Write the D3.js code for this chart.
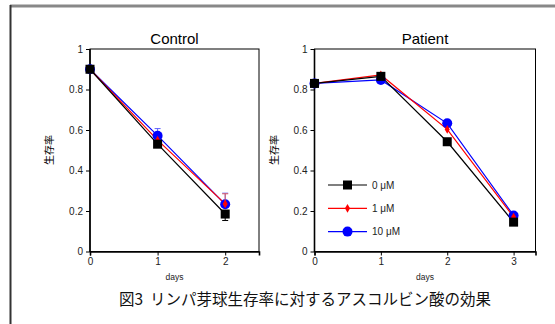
<!DOCTYPE html>
<html>
<head>
<meta charset="utf-8">
<script src="https://cdn.jsdelivr.net/npm/d3@7"></script>
<style>
  body { margin: 0; background: #fff; }
  text { font-family: "Liberation Sans", Arial, sans-serif; }
  .jp { font-family: "Noto Sans CJK JP", sans-serif; }
</style>
</head>
<body>
<svg id="chart" width="555" height="324"></svg>
<script>
// data
const controlDays = [0, 1, 2];
const patientDays = [0, 1, 2, 3];
const concLabels = ['0 μM', '1 μM', '10 μM'];

const control0 = [0.90, 0.53, 0.185];
const control1 = [0.90, 0.55, 0.235];
const control10 = [0.90, 0.572, 0.233];
const controlErr0 = [0, 0, 0.032];
const controlErr1 = [0, 0, 0.05];
const controlErr10 = [0, 0.035, 0.055];

const patient0 = [0.83, 0.865, 0.542, 0.145];
const patient1 = [0.83, 0.872, 0.603, 0.17];
const patient10 = [0.83, 0.847, 0.633, 0.178];

const yTicks = [0, 0.2, 0.4, 0.6, 0.8, 1];

const colors = ['#000000', '#ff0000', '#0000ff'];
const shapes = ['square', 'diamond', 'circle'];

const svg = d3.select('#chart');

// page frame (top gray rule, left dark rule)
svg.append('line').attr('x1', 10).attr('x2', 555).attr('y1', 6).attr('y2', 6)
  .attr('stroke', '#888').attr('stroke-width', 3);
svg.append('line').attr('x1', 10.5).attr('x2', 10.5).attr('y1', 5).attr('y2', 324)
  .attr('stroke', '#333').attr('stroke-width', 2);

function drawMarker(g, shape, color, x, y) {
  if (shape === 'square') {
    g.append('rect').attr('x', x - 4.5).attr('y', y - 4.5).attr('width', 9).attr('height', 9)
      .attr('fill', color);
  } else if (shape === 'circle') {
    g.append('circle').attr('cx', x).attr('cy', y).attr('r', 5).attr('fill', color);
  } else {
    g.append('path').attr('d', d3.symbol(d3.symbolDiamond, 22)())
      .attr('transform', `translate(${x},${y})`).attr('fill', color);
  }
}

function panel(opts) {
  const x = d3.scaleLinear().domain([0, opts.xMax]).range([opts.left, opts.right]);
  const y = d3.scaleLinear().domain([0, 1]).range([251.5, 49]);
  const g = svg.append('g');

  // box
  g.append('rect').attr('x', opts.left).attr('y', 49)
    .attr('width', opts.right - opts.left).attr('height', 251.5 - 49)
    .attr('fill', 'none').attr('stroke', '#000').attr('stroke-width', 1);

  const yAxis = g.append('g').attr('transform', `translate(${opts.left},0)`)
    .call(d3.axisLeft(y).tickValues(yTicks).tickSize(4).tickPadding(3)
      .tickFormat(d => String(+d.toFixed(1))));
  const xAxis = g.append('g').attr('transform', 'translate(0,251.5)')
    .call(d3.axisBottom(x).tickValues(opts.days).tickSize(4).tickPadding(2)
      .tickFormat(d3.format('d')));
  [yAxis, xAxis].forEach(a => {
    a.select('.domain').attr('stroke-width', 1.6);
    a.selectAll('text').attr('font-size', 10).attr('fill', '#222')
      .style('font-family', '"Liberation Sans", Arial, sans-serif');
  });
  yAxis.selectAll('.domain').attr('d', `M0,${y(0) + 0.5}V${y(1)}`);

  g.append('text').attr('x', (opts.left + opts.right) / 2).attr('y', 44)
    .attr('text-anchor', 'middle').attr('font-size', 15).text(opts.title);
  g.append('text').attr('x', (opts.left + opts.right) / 2).attr('y', 280)
    .attr('text-anchor', 'middle').attr('font-size', 8.5).attr('fill', '#222').text('days');
  g.append('text').attr('class', 'jp').attr('fill', '#000')
    .attr('transform', `translate(${opts.left - 37},150) rotate(-90)`)
    .attr('text-anchor', 'middle').attr('font-size', 10).text('生存率');

  const line = d3.line().x((d, i) => x(opts.days[i])).y(d => y(d));
  // draw series: blue first so black sits on top
  [2, 1, 0].forEach(s => {
    const vals = opts.series[s];
    g.append('path').datum(vals).attr('d', line)
      .attr('fill', 'none').attr('stroke', colors[s]).attr('stroke-width', 1.2);
  });
  [2, 1, 0].forEach(s => {
    const vals = opts.series[s];
    const errs = opts.errs ? opts.errs[s] : null;
    vals.forEach((v, i) => {
      const cx = x(opts.days[i]), cy = y(v);
      if (errs && errs[i] > 0) {
        const ec = s === 0 ? '#000' : (s === 1 ? '#e06060' : '#6060ff');
        const e = g.append('g').attr('stroke', ec).attr('stroke-width', 1);
        const end = s === 0 ? v - errs[i] : v + errs[i];
        e.append('line').attr('x1', cx).attr('x2', cx).attr('y1', cy).attr('y2', y(end));
        e.append('line').attr('x1', cx - 3).attr('x2', cx + 3).attr('y1', y(end)).attr('y2', y(end));
      }
      drawMarker(g, shapes[s], colors[s], cx, cy);
    });
  });
  return { x, y, g };
}

panel({
  title: 'Control', left: 90, right: 259, xMax: 2.5, days: controlDays,
  series: [control0, control1, control10],
  errs: [controlErr0, controlErr1, controlErr10]
});

panel({
  title: 'Patient', left: 314.5, right: 535.5, xMax: 3.33, days: patientDays,
  series: [patient0, patient1, patient10]
});

// legend in the Patient panel
const lg = svg.append('g');
concLabels.forEach((lab, i) => {
  const ly = 185 + i * 23.3;
  lg.append('line').attr('x1', 328).attr('x2', 367).attr('y1', ly).attr('y2', ly)
    .attr('stroke', colors[i]).attr('stroke-width', 1.2);
  drawMarker(lg, shapes[i], colors[i], 347.5, ly);
  lg.append('text').attr('x', 372).attr('y', ly + 3.5).attr('font-size', 10)
    .attr('fill', '#222').text(lab);
});

svg.append('text').attr('class', 'jp').attr('x', 305).attr('y', 305)
  .attr('text-anchor', 'middle').attr('font-size', 15.5).attr('fill', '#111')
  .attr('xml:space', 'preserve').style('white-space', 'pre')
  .text('図3  リンパ芽球生存率に対するアスコルビン酸の効果');
</script>
</body>
</html>
